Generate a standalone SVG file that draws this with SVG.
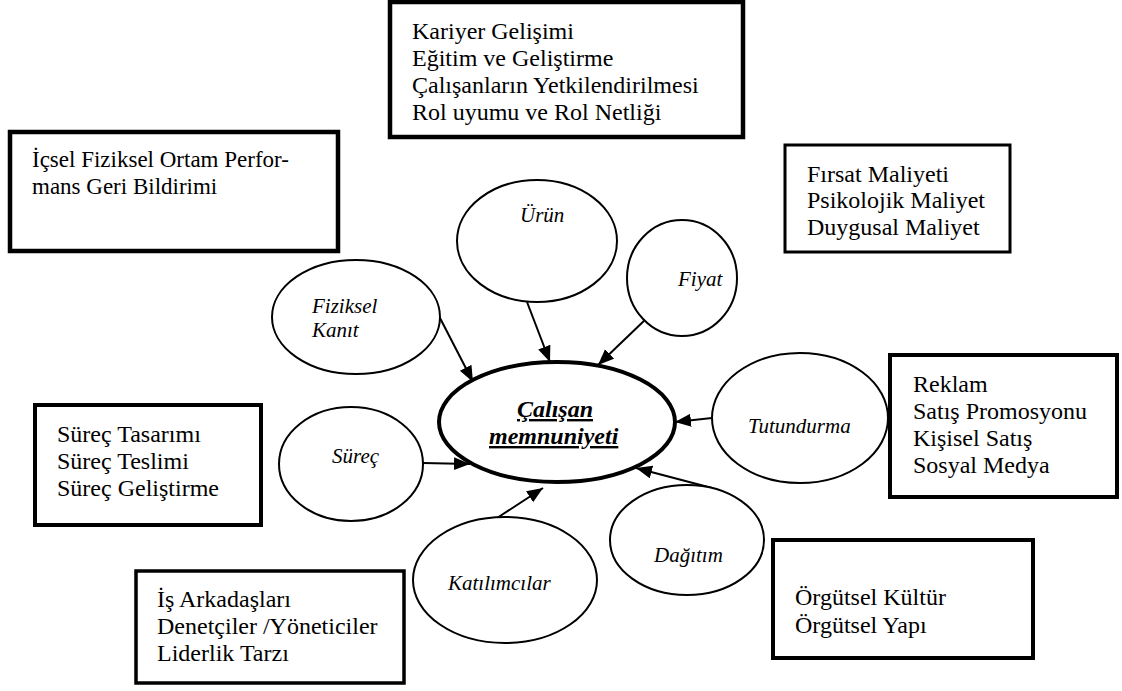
<svg xmlns="http://www.w3.org/2000/svg" width="1122" height="691" viewBox="0 0 1122 691">
<style>
  .box { fill: #ffffff; stroke: #000000; }
  .bt { font-family: "Liberation Serif", "Times New Roman", serif; font-size: 24px; fill: #000000; }
  .ell { fill: #ffffff; stroke: #000000; stroke-width: 2; }
  .et { font-family: "Liberation Serif", "Times New Roman", serif; font-size: 21px; font-style: italic; fill: #000000; }
  .ct { font-family: "Liberation Serif", "Times New Roman", serif; font-size: 24px; font-style: italic; font-weight: bold; text-decoration: underline; fill: #000000; }
  .conn { stroke: #000000; stroke-width: 2; fill: none; marker-end: url(#arrow); }
</style>
<defs>
  <marker id="arrow" markerUnits="userSpaceOnUse" markerWidth="18" markerHeight="14" refX="16" refY="6.5" orient="auto">
    <path d="M0,0 L16,6.5 L0,13 z" fill="#000000"/>
  </marker>
</defs>
<rect width="1122" height="691" fill="#ffffff"/>

<g id="box-kariyer">
  <rect class="box" x="390" y="2" width="353" height="135" stroke-width="4.5"/>
  <text class="bt" x="412" y="39">Kariyer Gelişimi</text>
  <text class="bt" x="412" y="66">Eğitim ve Geliştirme</text>
  <text class="bt" x="412" y="93">Çalışanların Yetkilendirilmesi</text>
  <text class="bt" x="412" y="120">Rol uyumu ve Rol Netliği</text>
</g>

<g id="box-icsel">
  <rect class="box" x="10" y="132" width="328" height="119" stroke-width="4.5"/>
  <text class="bt" x="32" y="167" style="font-size:23px">İçsel Fiziksel Ortam Perfor-</text>
  <text class="bt" x="32" y="194" style="font-size:23px">mans Geri Bildirimi</text>
</g>

<g id="box-firsat">
  <rect class="box" x="785" y="145" width="225" height="107" stroke-width="3"/>
  <text class="bt" x="807" y="182">Fırsat Maliyeti</text>
  <text class="bt" x="807" y="208">Psikolojik Maliyet</text>
  <text class="bt" x="807" y="235">Duygusal Maliyet</text>
</g>

<g id="box-reklam">
  <rect class="box" x="890" y="355" width="227" height="142" stroke-width="4"/>
  <text class="bt" x="913" y="392">Reklam</text>
  <text class="bt" x="913" y="419">Satış Promosyonu</text>
  <text class="bt" x="913" y="446">Kişisel Satış</text>
  <text class="bt" x="913" y="473">Sosyal Medya</text>
</g>

<g id="box-surec">
  <rect class="box" x="35" y="405" width="226" height="120" stroke-width="4"/>
  <text class="bt" x="57" y="442">Süreç Tasarımı</text>
  <text class="bt" x="57" y="469">Süreç Teslimi</text>
  <text class="bt" x="57" y="496">Süreç Geliştirme</text>
</g>

<g id="box-is">
  <rect class="box" x="136" y="571" width="268" height="112" stroke-width="3.5"/>
  <text class="bt" x="157" y="607">İş Arkadaşları</text>
  <text class="bt" x="157" y="634">Denetçiler /Yöneticiler</text>
  <text class="bt" x="157" y="661">Liderlik Tarzı</text>
</g>

<g id="box-orgutsel">
  <rect class="box" x="773" y="540" width="260" height="118" stroke-width="4"/>
  <text class="bt" x="795" y="605">Örgütsel Kültür</text>
  <text class="bt" x="795" y="633">Örgütsel Yapı</text>
</g>

<g id="connectors">
  <line class="conn" x1="440" y1="318" x2="473" y2="382"/>
  <line class="conn" x1="527" y1="302" x2="550" y2="362"/>
  <line class="conn" x1="647" y1="318" x2="598" y2="365"/>
  <line class="conn" x1="712" y1="418" x2="675" y2="422"/>
  <line class="conn" x1="423" y1="463" x2="470" y2="464"/>
  <line class="conn" x1="497" y1="518" x2="543" y2="488"/>
  <line class="conn" x1="712" y1="488" x2="636" y2="468"/>
</g>

<g id="node-urun">
  <ellipse class="ell" cx="537" cy="241" rx="80" ry="61"/>
  <text class="et" x="520" y="222">Ürün</text>
</g>

<g id="node-fiyat">
  <ellipse class="ell" cx="682" cy="278" rx="55" ry="58"/>
  <text class="et" x="678" y="286">Fiyat</text>
</g>

<g id="node-fiziksel">
  <ellipse class="ell" cx="356" cy="317" rx="84" ry="57"/>
  <text class="et" x="312" y="313">Fiziksel</text>
  <text class="et" x="312" y="337">Kanıt</text>
</g>

<g id="node-surec">
  <ellipse class="ell" cx="351" cy="464" rx="72" ry="57"/>
  <text class="et" x="332" y="463">Süreç</text>
</g>

<g id="node-tutundurma">
  <ellipse class="ell" cx="800" cy="418" rx="88" ry="65"/>
  <text class="et" x="748" y="433">Tutundurma</text>
</g>

<g id="node-dagitim">
  <ellipse class="ell" cx="687" cy="540" rx="77" ry="55"/>
  <text class="et" x="654" y="562">Dağıtım</text>
</g>

<g id="node-katilimcilar">
  <ellipse class="ell" cx="505" cy="580" rx="92" ry="63"/>
  <text class="et" x="448" y="590">Katılımcılar</text>
</g>

<g id="node-calisan">
  <ellipse cx="557" cy="422" rx="118" ry="60" fill="#ffffff" stroke="#000000" stroke-width="4"/>
  <text class="ct" x="517" y="417">Çalışan</text>
  <text class="ct" x="489" y="444">memnuniyeti</text>
</g>
</svg>
